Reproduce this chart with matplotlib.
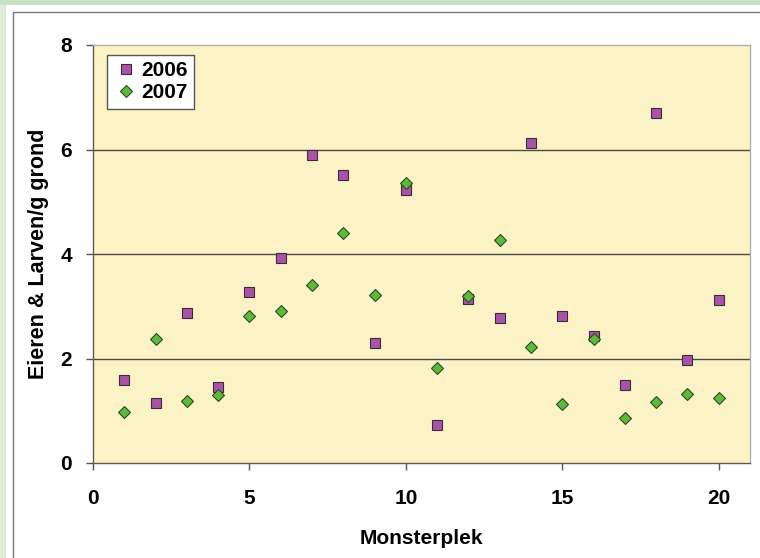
import matplotlib
matplotlib.use('Agg')
import matplotlib.pyplot as plt
from matplotlib.patches import Rectangle

# data: egg & larvae counts per sample location
monsterplek = list(range(1, 21))
eieren_2006 = [1.59, 1.15, 2.87, 1.46, 3.27, 3.92, 5.90, 5.52, 2.30, 5.22,
               0.73, 3.14, 2.78, 6.12, 2.81, 2.43, 1.49, 6.70, 1.97, 3.12]
eieren_2007 = [0.98, 2.37, 1.19, 1.30, 2.81, 2.91, 3.41, 4.40, 3.22, 5.36,
               1.82, 3.20, 4.27, 2.22, 1.13, 2.37, 0.86, 1.17, 1.32, 1.24]
x_ticks = [0, 5, 10, 15, 20]
y_ticks = [0, 2, 4, 6, 8]

plt.rcParams['font.family'] = ['Liberation Sans', 'DejaVu Sans']
plt.rcParams['font.weight'] = 'bold'

fig = plt.figure(figsize=(7.6, 5.58), dpi=100)
fig.patch.set_facecolor('#dcecd9')

W, H = 760.0, 558.0
# white card and its frame
fig.patches.append(Rectangle((6 / W, 0), 1, 1 - 5 / H, transform=fig.transFigure,
                             facecolor='white', edgecolor='none', zorder=-2))
fig.patches.append(Rectangle((13 / W, -0.1), 1.2, 1.1 - 12 / H, transform=fig.transFigure,
                             facecolor='none', edgecolor='#7a7a7a', linewidth=1.0, zorder=-1))
# green band on top is a bit darker
fig.patches.append(Rectangle((0, 1 - 5 / H), 1, 5 / H, transform=fig.transFigure,
                             facecolor='#c6e4c3', edgecolor='none', zorder=-2))

ax = fig.add_axes([93 / W, (H - 463) / H, (750 - 93) / W, (463 - 45) / H])
ax.set_zorder(5)
ax.set_facecolor('#fbf3c5')

ax.plot(monsterplek, eieren_2006, linestyle='none', marker='s', markersize=7.5,
        markerfacecolor='#a853a8', markeredgecolor='#3d2a3d', markeredgewidth=0.8,
        label='2006', zorder=3)
ax.plot(monsterplek, eieren_2007, linestyle='none', marker='D', markersize=6.6,
        markerfacecolor='#5cb93a', markeredgecolor='#2d4a22', markeredgewidth=0.8,
        label='2007', zorder=4)

ax.set_xlim(0, 21)
ax.set_ylim(0, 8)
ax.set_xticks(x_ticks)
ax.set_yticks(y_ticks)
ax.tick_params(axis='both', labelsize=15, direction='out', length=5, width=1,
               color='#555555')
ax.tick_params(axis='x', pad=14)
ax.tick_params(axis='y', pad=10)
for lab in ax.get_xticklabels() + ax.get_yticklabels():
    lab.set_fontweight('bold')

for y in [2, 4, 6]:
    ax.axhline(y, color='#4a4a4a', linewidth=1.0, zorder=1)

for side in ['left', 'bottom']:
    ax.spines[side].set_color('#5a5a5a')
    ax.spines[side].set_linewidth(1.0)
for side in ['top', 'right']:
    ax.spines[side].set_color('#b0b0b0')
    ax.spines[side].set_linewidth(1.0)

ax.set_xlabel('Monsterplek', fontsize=15, fontweight='bold', labelpad=15)
ax.set_ylabel('Eieren & Larven/g grond', fontsize=15.5, fontweight='bold', labelpad=8)

leg = ax.legend(loc='upper left', bbox_to_anchor=(0.021, 0.976), fontsize=15,
                frameon=True, fancybox=False, borderpad=0.3, handletextpad=0.15,
                labelspacing=0.15, handlelength=1.2, borderaxespad=0)
leg.get_frame().set_edgecolor('#555555')
leg.get_frame().set_linewidth(1.0)
leg.get_frame().set_facecolor('white')
leg.get_frame().set_alpha(1)

fig.savefig('out.png', dpi=100, facecolor=fig.get_facecolor())
